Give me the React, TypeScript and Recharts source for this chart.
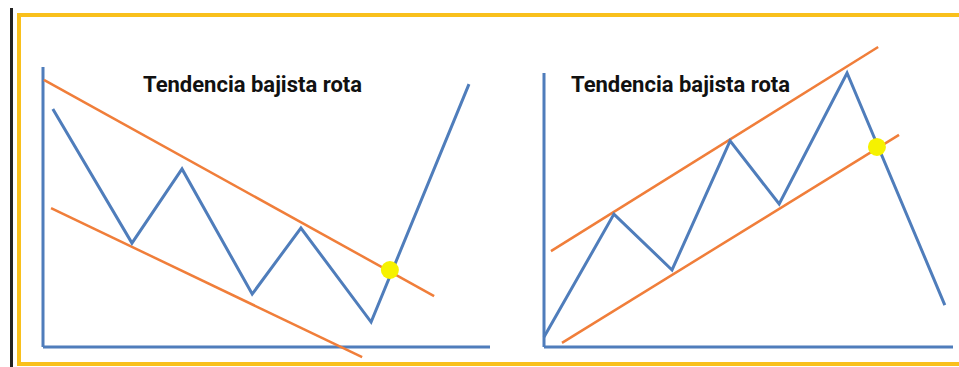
import React from 'react';
import { LineChart, Line, XAxis, YAxis, ReferenceLine, ReferenceDot } from 'recharts';

// left panel: falling channel broken upward
const leftPrice = [
  { x: 0.22, y: 8.5 },
  { x: 1.99, y: 3.71 },
  { x: 3.11, y: 6.36 },
  { x: 4.68, y: 1.89 },
  { x: 5.77, y: 4.25 },
  { x: 7.34, y: 0.89 },
  { x: 9.53, y: 9.39 },
];
const leftUpper = [
  { x: 0.02, y: 9.54 },
  { x: 8.75, y: 1.82 },
];
const leftLower = [
  { x: 0.18, y: 4.96 },
  { x: 7.14, y: -0.36 },
];
const leftBreak = { x: 7.76, y: 2.75 };

// right panel: rising channel broken downward
const rightPrice = [
  { x: 0, y: 0.36 },
  { x: 1.71, y: 4.85 },
  { x: 3.13, y: 2.81 },
  { x: 4.55, y: 7.52 },
  { x: 5.75, y: 5.22 },
  { x: 7.41, y: 10.0 },
  { x: 9.8, y: 1.53 },
];
const rightUpper = [
  { x: 0.17, y: 3.5 },
  { x: 8.17, y: 10.95 },
];
const rightLower = [
  { x: 0.44, y: 0.15 },
  { x: 8.68, y: 7.74 },
];
const rightBreak = { x: 8.14, y: 7.3 };

const titles = ['Tendencia bajista rota', 'Tendencia bajista rota'];

const BLUE = '#4f7dbb';
const ORANGE = '#f07e3a';
const DOT = '#f6f200';

interface PanelProps {
  price: { x: number; y: number }[];
  upper: { x: number; y: number }[];
  lower: { x: number; y: number }[];
  breakout: { x: number; y: number };
  yDomain: [number, number];
  width: number;
  margin: { top: number; right: number; bottom: number; left: number };
}

const Panel: React.FC<PanelProps> = ({ price, upper, lower, breakout, yDomain, width, margin }) => (
  <LineChart width={width} height={367} margin={margin}>
    <XAxis type="number" dataKey="x" domain={[0, 10]} hide />
    <YAxis type="number" dataKey="y" domain={yDomain} hide width={0} />
    <ReferenceLine
      segment={[{ x: 0, y: 0 }, { x: 10, y: 0 }]}
      stroke={BLUE}
      strokeWidth={3}
      ifOverflow="visible"
    />
    <ReferenceLine
      segment={[{ x: 0, y: 0 }, { x: 0, y: 10 }]}
      stroke={BLUE}
      strokeWidth={3}
      ifOverflow="visible"
    />
    <Line data={upper} dataKey="y" type="linear" stroke={ORANGE} strokeWidth={2.5} dot={false} isAnimationActive={false} />
    <Line data={lower} dataKey="y" type="linear" stroke={ORANGE} strokeWidth={2.5} dot={false} isAnimationActive={false} />
    <Line data={price} dataKey="y" type="linear" stroke={BLUE} strokeWidth={3} dot={false} isAnimationActive={false} />
    <ReferenceDot x={breakout.x} y={breakout.y} r={9} fill={DOT} stroke="none" ifOverflow="visible" />
  </LineChart>
);

const titleStyle: React.CSSProperties = {
  position: 'absolute',
  top: 72,
  fontFamily: 'Roboto, sans-serif',
  fontWeight: 700,
  fontSize: 22,
  color: '#111',
  whiteSpace: 'nowrap',
};

export default function App() {
  return (
    <div
      style={{
        position: 'fixed',
        left: 0,
        top: 0,
        width: 959,
        height: 367,
        background: '#fff',
        overflow: 'hidden',
      }}
    >
      <div style={{ position: 'absolute', left: 10, top: 8, width: 2.5, height: 359, background: '#222' }} />
      <div
        style={{
          position: 'absolute',
          left: 17,
          top: 13,
          width: 1000,
          height: 345,
          borderTop: '4px solid #f9c01c',
          borderLeft: '4px solid #f9c01c',
          borderBottom: '4px solid #f9c01c',
        }}
      />
      <div style={{ position: 'absolute', left: 0, top: 0 }}>
        <Panel
          price={leftPrice}
          upper={leftUpper}
          lower={leftLower}
          breakout={leftBreak}
          yDomain={[-0.5, 10]}
          width={500}
          margin={{ top: 67, right: 10, bottom: 6, left: 43 }}
        />
      </div>
      <div style={{ position: 'absolute', left: 500, top: 0 }}>
        <Panel
          price={rightPrice}
          upper={rightUpper}
          lower={rightLower}
          breakout={rightBreak}
          yDomain={[-0.3, 11.2]}
          width={459}
          margin={{ top: 40.1, right: 6, bottom: 11.8, left: 44 }}
        />
      </div>
      <div style={{ ...titleStyle, left: 143 }}>{titles[0]}</div>
      <div style={{ ...titleStyle, left: 571 }}>{titles[1]}</div>
    </div>
  );
}
